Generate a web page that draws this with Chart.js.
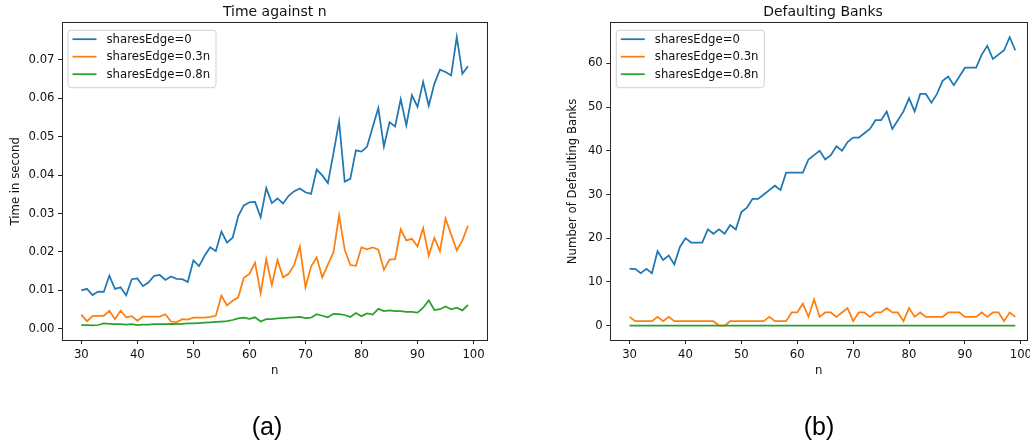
<!DOCTYPE html>
<html>
<head>
<meta charset="utf-8">
<script src="https://cdn.jsdelivr.net/npm/chart.js@4/dist/chart.umd.min.js"></script>
<style>
html,body{margin:0;padding:0;background:#fff;}
#wrap{position:relative;width:1030px;height:446px;overflow:hidden;background:#fff;}
#wrap canvas{position:absolute;left:0;top:0;}
</style>
</head>
<body>
<div id="wrap">
<canvas id="chartTime" width="1030" height="446"></canvas>
<canvas id="chartBanks" width="1030" height="446"></canvas>
</div>
<script>
// ---------- DATA ----------
const nValues = [30,31,32,33,34,35,36,37,38,39,40,41,42,43,44,45,46,47,48,49,
                 50,51,52,53,54,55,56,57,58,59,60,61,62,63,64,65,66,67,68,69,
                 70,71,72,73,74,75,76,77,78,79,80,81,82,83,84,85,86,87,88,89,
                 90,91,92,93,94,95,96,97,98,99];

const seriesLabels = ['sharesEdge=0', 'sharesEdge=0.3n', 'sharesEdge=0.8n'];

const xTickValues = [30,40,50,60,70,80,90,100];
const xTickLabels = ['30','40','50','60','70','80','90','100'];

const timeYTickValues = [0,0.01,0.02,0.03,0.04,0.05,0.06,0.07];
const timeYTickLabels = ['0.00','0.01','0.02','0.03','0.04','0.05','0.06','0.07'];

const banksYTickValues = [0,10,20,30,40,50,60];
const banksYTickLabels = ['0','10','20','30','40','50','60'];

// Time against n
const timeEdge0 = [0.0100,0.0104,0.0088,0.0097,0.0096,0.0138,0.0104,0.0108,0.0087,0.0129,
                   0.0131,0.0111,0.0121,0.0138,0.0140,0.0127,0.0136,0.0130,0.0129,0.0122,
                   0.0178,0.0163,0.0190,0.0212,0.0202,0.0253,0.0224,0.0237,0.0293,0.0321,
                   0.0329,0.0330,0.0290,0.0366,0.0327,0.0339,0.0326,0.0346,0.0358,0.0365,
                   0.0355,0.0351,0.0414,0.0399,0.0379,0.0457,0.0539,0.0383,0.0390,0.0464,
                   0.0461,0.0474,0.0525,0.0574,0.0474,0.0537,0.0526,0.0597,0.0529,0.0607,
                   0.0577,0.0642,0.0580,0.0637,0.0674,0.0668,0.0659,0.0759,0.0663,0.0683];
const timeEdge03 = [0.0037,0.0020,0.0033,0.0034,0.0034,0.0047,0.0025,0.0047,0.0030,0.0033,
                    0.0021,0.0032,0.0032,0.0032,0.0032,0.0038,0.0019,0.0017,0.0025,0.0024,
                    0.0029,0.0029,0.0029,0.0031,0.0034,0.0086,0.0061,0.0073,0.0082,0.0133,
                    0.0143,0.0172,0.0093,0.0181,0.0114,0.0179,0.0134,0.0143,0.0167,0.0214,
                    0.0108,0.0162,0.0186,0.0134,0.0167,0.0199,0.0295,0.0206,0.0166,0.0164,
                    0.0212,0.0207,0.0212,0.0206,0.0154,0.0180,0.0181,0.0259,0.0230,0.0234,
                    0.0214,0.0262,0.0190,0.0237,0.0202,0.0287,0.0245,0.0204,0.0230,0.0268];
const timeEdge08 = [0.0010,0.0010,0.0009,0.0010,0.0014,0.0013,0.0012,0.0012,0.0011,0.0012,
                    0.0010,0.0011,0.0011,0.0012,0.0012,0.0012,0.0013,0.0012,0.0013,0.0014,
                    0.0014,0.0015,0.0016,0.0017,0.0018,0.0019,0.0020,0.0023,0.0027,0.0029,
                    0.0026,0.0030,0.0019,0.0025,0.0025,0.0027,0.0028,0.0029,0.0030,0.0031,
                    0.0028,0.0029,0.0038,0.0034,0.0030,0.0039,0.0038,0.0036,0.0031,0.0041,
                    0.0033,0.0040,0.0037,0.0052,0.0046,0.0048,0.0046,0.0046,0.0044,0.0044,
                    0.0042,0.0055,0.0074,0.0049,0.0051,0.0058,0.0051,0.0055,0.0048,0.0062];

// Defaulting Banks
const banksEdge0 = [13,13,12,13,12,17,15,16,14,18,
                    20,19,19,19,22,21,22,21,23,22,
                    26,27,29,29,30,31,32,31,35,35,
                    35,35,38,39,40,38,39,41,40,42,
                    43,43,44,45,47,47,49,45,47,49,
                    52,49,53,53,51,53,56,57,55,57,
                    59,59,59,62,64,61,62,63,66,63];
const banksEdge03 = [2,1,1,1,1,2,1,2,1,1,
                     1,1,1,1,1,1,0,0,1,1,
                     1,1,1,1,1,2,1,1,1,3,
                     3,5,2,6,2,3,3,2,3,4,
                     1,3,3,2,3,3,4,3,3,1,
                     4,2,3,2,2,2,2,3,3,3,
                     2,2,2,3,2,3,3,1,3,2];
const banksEdge08 = [0,0,0,0,0,0,0,0,0,0,
                     0,0,0,0,0,0,0,0,0,0,
                     0,0,0,0,0,0,0,0,0,0,
                     0,0,0,0,0,0,0,0,0,0,
                     0,0,0,0,0,0,0,0,0,0,
                     0,0,0,0,0,0,0,0,0,0,
                     0,0,0,0,0,0,0,0,0,0];

const seriesColors = ['#1f77b4', '#ff7f0e', '#2ca02c'];

// ---------- RENDERING ----------
const FONT = '"DejaVu Sans", "Liberation Sans", sans-serif';
const TEXT = '#111111';

function points(values) {
  return nValues.map((n, i) => ({x: n, y: values[i]}));
}

const framePlugin = {
  id: 'frame',
  afterDraw(chart, args, opts) {
    const {ctx, chartArea: ca} = chart;
    ctx.save();
    // axes frame
    ctx.strokeStyle = '#262626';
    ctx.lineWidth = 1;
    const l = Math.floor(ca.left) + 0.5, r = Math.floor(ca.right) + 0.5;
    const t = Math.floor(ca.top) + 0.5, b = Math.floor(ca.bottom) + 0.5;
    ctx.strokeRect(l, t, r - l, b - t);

    // title
    ctx.fillStyle = TEXT;
    ctx.font = '14px ' + FONT;
    ctx.textAlign = 'center';
    ctx.textBaseline = 'alphabetic';
    ctx.fillText(opts.title, opts.titleX, 15.5);

    // legend
    const bx = ca.left + 5.5, by = ca.top + 7, bw = 148, bh = 57.5;
    ctx.beginPath();
    ctx.roundRect(bx + 0.5, by + 0.5, bw, bh, 3);
    ctx.fillStyle = 'rgba(255,255,255,0.8)';
    ctx.fill();
    ctx.strokeStyle = '#d0d0d0';
    ctx.lineWidth = 1;
    ctx.stroke();
    ctx.font = '11.7px ' + FONT;
    ctx.textAlign = 'left';
    ctx.textBaseline = 'middle';
    chart.data.datasets.forEach((ds, i) => {
      const y = by + 9.5 + i * 17.5;
      ctx.beginPath();
      ctx.moveTo(bx + 5, y);
      ctx.lineTo(bx + 29, y);
      ctx.strokeStyle = ds.borderColor;
      ctx.lineWidth = 1.75;
      ctx.stroke();
      ctx.fillStyle = TEXT;
      ctx.fillText(ds.label, bx + 39, y + 0.5);
    });

    // caption below panel
    ctx.fillStyle = '#000';
    ctx.font = '25px "Liberation Sans", Arial, sans-serif';
    ctx.textAlign = 'center';
    ctx.textBaseline = 'alphabetic';
    ctx.fillText(opts.caption, opts.captionX, 434.5);
    ctx.restore();
  }
};

function makeChart(id, cfg) {
  const datasets = cfg.series.map((vals, i) => ({
    label: seriesLabels[i],
    data: points(vals),
    borderColor: seriesColors[i],
    backgroundColor: seriesColors[i],
    borderWidth: 1.75,
    pointRadius: 0,
    tension: 0,
    fill: false,
    order: 2 - i
  }));
  const tickFont = {family: FONT, size: 11.7};
  return new Chart(document.getElementById(id), {
    type: 'line',
    data: {datasets},
    plugins: [framePlugin],
    options: {
      responsive: false,
      maintainAspectRatio: false,
      animation: false,
      devicePixelRatio: 1,
      layout: {padding: cfg.padding, autoPadding: false},
      plugins: {
        legend: {display: false},
        title: {display: false},
        tooltip: {enabled: false},
        frame: {title: cfg.title, titleX: cfg.titleX, caption: cfg.caption, captionX: cfg.captionX}
      },
      scales: {
        x: {
          type: 'linear',
          bounds: 'data',
          min: cfg.xMin, max: cfg.xMax,
          afterBuildTicks: s => { s.ticks = xTickValues.map(v => ({value: v})); },
          afterFit: s => { s.height = 46; s.paddingLeft = 0; s.paddingRight = 0; s.paddingTop = 0; s.paddingBottom = 0; },
          ticks: {
            autoSkip: false, maxRotation: 0, minRotation: 0,
            padding: 3.5, color: TEXT, font: tickFont,
            callback: (v, i) => xTickLabels[i]
          },
          grid: {drawOnChartArea: false, drawTicks: true, tickLength: 4, color: '#262626', lineWidth: 1},
          border: {display: false},
          title: {display: true, text: 'n', color: TEXT, font: tickFont, padding: {top: 0, bottom: 8}}
        },
        y: {
          type: 'linear',
          bounds: 'data',
          min: cfg.yMin, max: cfg.yMax,
          afterBuildTicks: s => { s.ticks = cfg.yTicks.map(v => ({value: v})); },
          afterFit: s => { s.width = 62; s.paddingLeft = 0; s.paddingRight = 0; s.paddingTop = 0; s.paddingBottom = 0; },
          ticks: {
            autoSkip: false, padding: 3.5, color: TEXT, font: tickFont,
            callback: (v, i) => cfg.yLabels[i]
          },
          grid: {drawOnChartArea: false, drawTicks: true, tickLength: 4, color: '#262626', lineWidth: 1},
          border: {display: false},
          title: {display: true, text: cfg.yTitle, color: TEXT, font: tickFont, padding: {top: cfg.yTitlePad, bottom: 0}}
        }
      }
    }
  });
}

makeChart('chartTime', {
  series: [timeEdge0, timeEdge03, timeEdge08],
  padding: {left: 0, top: 22.7, right: 542.7, bottom: 60},
  xMin: 26.55, xMax: 102.45,
  yMin: -0.0029, yMax: 0.0796,
  yTicks: timeYTickValues, yLabels: timeYTickLabels,
  yTitle: 'Time in second', yTitlePad: 8.5,
  title: 'Time against n', titleX: 274.7,
  caption: '(a)', captionX: 267
});

makeChart('chartBanks', {
  series: [banksEdge0, banksEdge03, banksEdge08],
  padding: {left: 548.3, top: 22.7, right: 3, bottom: 60},
  xMin: 26.55, xMax: 101.1,
  yMin: -3.3, yMax: 69.3,
  yTicks: banksYTickValues, yLabels: banksYTickLabels,
  yTitle: 'Number of Defaulting Banks', yTitlePad: 18,
  title: 'Defaulting Banks', titleX: 823,
  caption: '(b)', captionX: 819
});
</script>
</body>
</html>
